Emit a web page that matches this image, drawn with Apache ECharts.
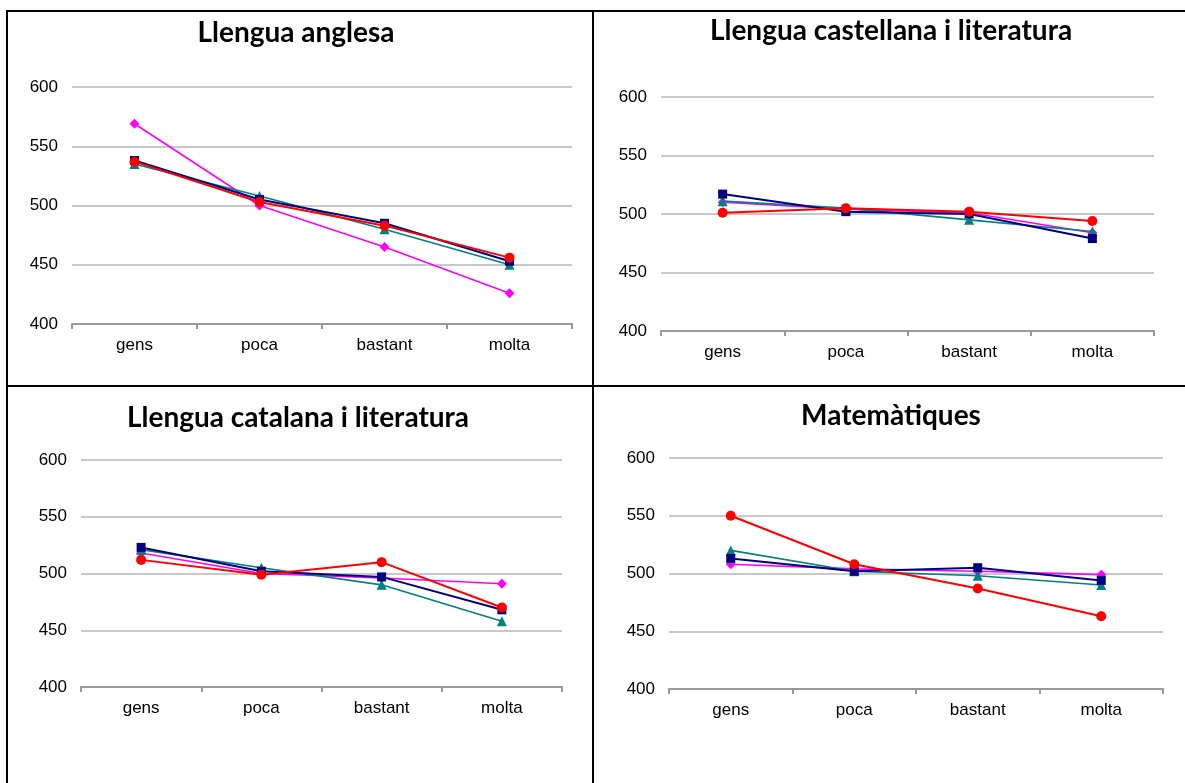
<!DOCTYPE html>
<html>
<head>
<meta charset="utf-8">
<title>Llengües i matemàtiques</title>
<script src="https://cdn.jsdelivr.net/npm/echarts@6/dist/echarts.min.js"></script>
<style>
  html, body { margin: 0; padding: 0; background: #fff; }
  #chart { width: 1185px; height: 783px; }
</style>
</head>
<body>
<div id="chart"></div>
<script>
// categories and values
var categories = ['gens', 'poca', 'bastant', 'molta'];
var titles = ['Llengua anglesa', 'Llengua castellana i literatura', 'Llengua catalana i literatura', 'Matemàtiques'];
var yMin = 400, yMax = 600, yStep = 50;

// Llengua anglesa
var anglesaBlau    = [538, 505, 485, 453];
var anglesaMagenta = [569, 500, 465, 426];
var anglesaVerd    = [535, 508, 480, 450];
var anglesaVermell = [537, 503, 483, 456];
// Llengua castellana i literatura
var castellanaBlau    = [517, 502, 500, 479];
var castellanaMagenta = [510, 504, 501, 484];
var castellanaVerd    = [511, 505, 495, 485];
var castellanaVermell = [501, 505, 502, 494];
// Llengua catalana i literatura
var catalanaBlau    = [523, 502, 497, 468];
var catalanaMagenta = [518, 500, 496, 491];
var catalanaVerd    = [521, 505, 490, 458];
var catalanaVermell = [512, 499, 510, 470];
// Matemàtiques
var mateBlau    = [513, 502, 505, 494];
var mateMagenta = [508, 504, 502, 499];
var mateVerd    = [520, 502, 498, 490];
var mateVermell = [550, 508, 487, 463];

var panelData = [
  [anglesaMagenta, anglesaVerd, anglesaBlau, anglesaVermell],
  [castellanaMagenta, castellanaVerd, castellanaBlau, castellanaVermell],
  [catalanaMagenta, catalanaVerd, catalanaBlau, catalanaVermell],
  [mateMagenta, mateVerd, mateBlau, mateVermell]
];

// styles per series (same order as above)
var looks = [
  {name: 'Sèrie 2', color: '#ff00ff', symbol: 'diamond', size: 10, width: 1.6},
  {name: 'Sèrie 3', color: '#008080', symbol: 'triangle', size: 10, width: 1.6},
  {name: 'Sèrie 1', color: '#000080', symbol: 'rect', size: 9, width: 2},
  {name: 'Sèrie 4', color: '#ff0000', symbol: 'circle', size: 10, width: 2}
];

var grids = [
  {left: 72, top: 87, width: 500, height: 237},
  {left: 661, top: 97, width: 493, height: 234},
  {left: 81, top: 460, width: 481, height: 227},
  {left: 669, top: 458, width: 494, height: 231}
];
var titlePos = [
  {x: 291, y: 14},
  {x: 886, y: 12},
  {x: 293, y: 399},
  {x: 886, y: 397}
];

var dom = document.getElementById('chart');
var myChart = echarts.init(dom, null, {renderer: 'canvas'});

var option = {
  animation: false,
  title: [],
  grid: [],
  xAxis: [],
  yAxis: [],
  series: [],
  graphic: []
};

for (var p = 0; p < 4; p++) {
  option.title.push({
    text: titles[p],
    left: titlePos[p].x,
    top: titlePos[p].y,
    textAlign: 'center',
    textStyle: {fontFamily: 'Lato', fontWeight: 'bold', fontSize: 28, color: '#000'}
  });
  option.grid.push({left: grids[p].left, top: grids[p].top, width: grids[p].width, height: grids[p].height, containLabel: false});
  option.xAxis.push({
    type: 'category',
    gridIndex: p,
    data: categories,
    boundaryGap: true,
    axisLine: {lineStyle: {color: '#999999', width: 2}},
    axisTick: {show: true, length: 5, lineStyle: {color: '#999999', width: 2}},
    axisLabel: {color: '#000', fontFamily: 'Liberation Sans', fontSize: 17, margin: 13}
  });
  option.yAxis.push({
    type: 'value',
    gridIndex: p,
    min: yMin,
    max: yMax,
    interval: yStep,
    axisLine: {show: false},
    axisTick: {show: false},
    splitLine: {lineStyle: {color: '#c8c8c8', width: 2}},
    axisLabel: {color: '#000', fontFamily: 'Liberation Sans', fontSize: 17, margin: 14}
  });
  for (var s = 0; s < 4; s++) {
    option.series.push({
      name: looks[s].name,
      type: 'line',
      xAxisIndex: p,
      yAxisIndex: p,
      data: panelData[p][s],
      symbol: looks[s].symbol,
      symbolSize: looks[s].size,
      showAllSymbol: true,
      lineStyle: {color: looks[s].color, width: looks[s].width},
      itemStyle: {color: looks[s].color, borderWidth: 0}
    });
  }
}

// table borders around the four panels
var black = {stroke: '#000', lineWidth: 2};
option.graphic = [
  {type: 'line', shape: {x1: 6, y1: 11, x2: 1185, y2: 11}, style: black, silent: true},
  {type: 'line', shape: {x1: 7, y1: 10, x2: 7, y2: 783}, style: black, silent: true},
  {type: 'line', shape: {x1: 593, y1: 10, x2: 593, y2: 783}, style: black, silent: true},
  {type: 'line', shape: {x1: 6, y1: 386, x2: 1185, y2: 386}, style: black, silent: true}
];

myChart.setOption(option);
</script>
</body>
</html>
